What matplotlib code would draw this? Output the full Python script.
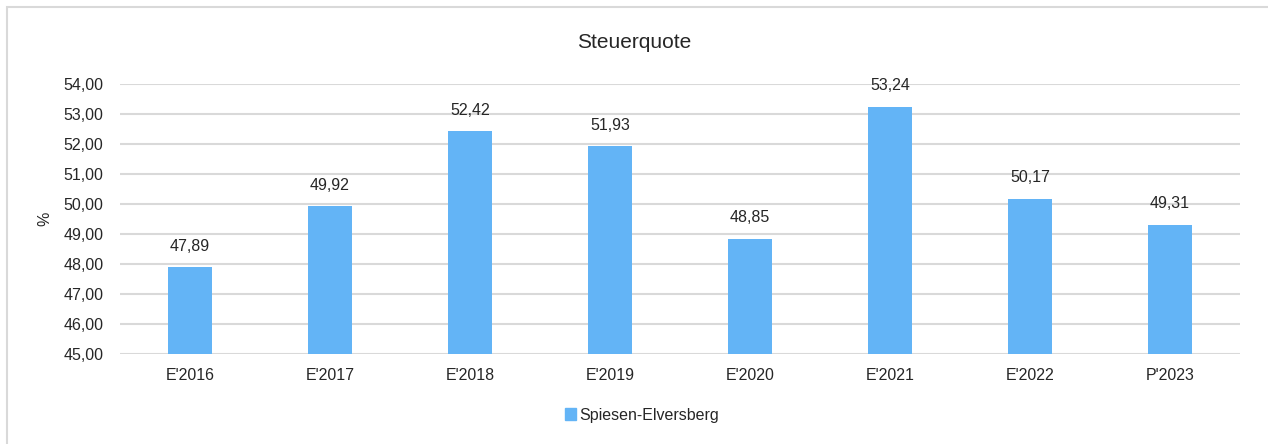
import matplotlib.pyplot as plt
from matplotlib.patches import Rectangle, Patch

categories = ["E'2016", "E'2017", "E'2018", "E'2019", "E'2020", "E'2021", "E'2022", "P'2023"]
values = [47.89, 49.92, 52.42, 51.93, 48.85, 53.24, 50.17, 49.31]
series_name = "Spiesen-Elversberg"

plt.rcParams['font.family'] = ['Liberation Sans', 'DejaVu Sans']

bar_color = '#63b4f6'
grid_color = '#d9d9d9'
text_color = '#262626'

fig = plt.figure(figsize=(12.68, 4.44), dpi=100)
ax = fig.add_axes([120 / 1268, 1 - 354 / 444, 1120 / 1268, 270 / 444])

# outer chart border (right and bottom edges run off the image)
fig.patches.append(Rectangle((7 / 1268, -0.05), 1.0, 1 - 7.5 / 444 + 0.05,
                             transform=fig.transFigure, fill=False,
                             edgecolor=grid_color, linewidth=1.5))

x = range(len(categories))
ax.bar(x, values, width=0.315, color=bar_color, zorder=3)
for xi, v in zip(x, values):
    ax.text(xi, v + 0.45, f"{v:.2f}".replace('.', ','), ha='center', va='bottom',
            fontsize=11.5, color=text_color)

ax.set_xlim(-0.5, len(categories) - 0.5)
ax.set_ylim(45, 54)
ax.set_yticks(range(45, 55))
ax.set_yticklabels([f"{t},00" for t in range(45, 55)])
ax.set_xticks(list(x))
ax.set_xticklabels(categories)
ax.tick_params(axis='both', length=0, labelsize=11.5, labelcolor=text_color)
ax.tick_params(axis='y', pad=12)
ax.tick_params(axis='x', pad=10)
ax.grid(axis='y', color=grid_color, linewidth=1.5, zorder=0)
for s in ax.spines.values():
    s.set_visible(False)

ax.set_ylabel('%', fontsize=11.5, color=text_color, labelpad=8)
fig.text(0.5, 1 - 42 / 444, 'Steuerquote', ha='center', va='center',
         fontsize=15, color=text_color)

fig.legend(handles=[Patch(color=bar_color, label=series_name)],
           loc='center', bbox_to_anchor=(0.506, 1 - 415 / 444), frameon=False,
           fontsize=11.5, handlelength=0.7, handleheight=0.7, handletextpad=0.2,
           labelcolor=text_color)

fig.savefig('out.png', dpi=100)
